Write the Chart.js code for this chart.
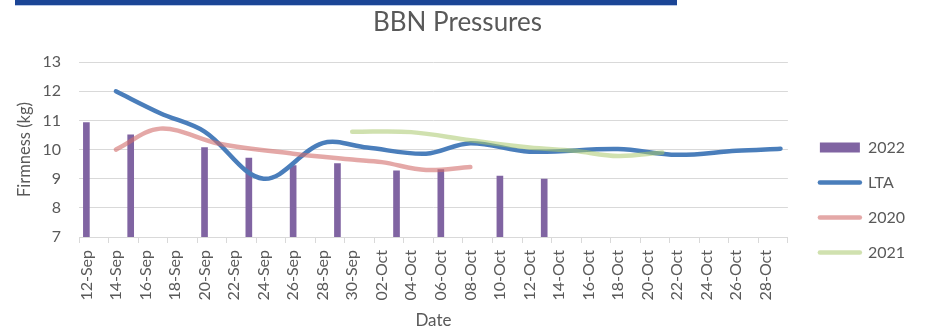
<!DOCTYPE html>
<html>
<head>
<meta charset="utf-8">
<script src="https://cdn.jsdelivr.net/npm/chart.js@4/dist/chart.umd.min.js"></script>
<style>
  html, body { margin: 0; padding: 0; background: #ffffff; }
  #wrap { position: relative; width: 937px; height: 327px; overflow: hidden; }
  #chart { position: absolute; left: 0; top: 0; }
  #topband { position: absolute; left: 15px; top: 0; width: 662px; height: 5px;
             background: #1B4596; border-bottom: 1px solid #B7C7E6; }
</style>
</head>
<body>
<div id="wrap">
  <canvas id="chart" width="937" height="327"></canvas>
  <div id="topband"></div>
</div>
<script>
// Daily date axis, 12 Sep – 29 Oct
const categories = [
  '12-Sep','13-Sep','14-Sep','15-Sep','16-Sep','17-Sep','18-Sep','19-Sep','20-Sep','21-Sep',
  '22-Sep','23-Sep','24-Sep','25-Sep','26-Sep','27-Sep','28-Sep','29-Sep','30-Sep',
  '01-Oct','02-Oct','03-Oct','04-Oct','05-Oct','06-Oct','07-Oct','08-Oct','09-Oct','10-Oct',
  '11-Oct','12-Oct','13-Oct','14-Oct','15-Oct','16-Oct','17-Oct','18-Oct','19-Oct','20-Oct',
  '21-Oct','22-Oct','23-Oct','24-Oct','25-Oct','26-Oct','27-Oct','28-Oct','29-Oct'
];

// 2022 firmness readings (bars)
const dates2022 = ['12-Sep','15-Sep','20-Sep','23-Sep','26-Sep','29-Sep','03-Oct','06-Oct','10-Oct','13-Oct'];
const values2022 = [10.93, 10.51, 10.07, 9.71, 9.45, 9.52, 9.27, 9.31, 9.09, 8.99];

// Long-term average
const datesLTA = ['14-Sep','17-Sep','20-Sep','24-Sep','28-Sep','01-Oct','05-Oct','08-Oct','12-Oct','18-Oct','22-Oct','26-Oct','29-Oct'];
const valuesLTA = [12.0, 11.25, 10.62, 9.0, 10.22, 10.07, 9.86, 10.22, 9.93, 10.02, 9.82, 9.96, 10.03];

// 2020 season
const dates2020 = ['14-Sep','17-Sep','21-Sep','26-Sep','30-Sep','02-Oct','05-Oct','08-Oct'];
const values2020 = [10.0, 10.72, 10.2, 9.86, 9.66, 9.57, 9.3, 9.4];

// 2021 season
const dates2021 = ['30-Sep','04-Oct','08-Oct','12-Oct','15-Oct','18-Oct','21-Oct'];
const values2021 = [10.61, 10.6, 10.32, 10.07, 9.96, 9.78, 9.9];

const yTicks = { min: 7, max: 13, step: 1 };

const FONT = 'Lato, "Open Sans", sans-serif';
const TEXT = '#595959';
const GRID = '#D9D9D9';

function series(dates, values) {
  return dates.map((d, i) => ({ x: d, y: values[i] }));
}

const lineStyle = {
  type: 'line',
  borderWidth: 4.5,
  borderCapStyle: 'round',
  borderJoinStyle: 'round',
  pointRadius: 0,
  pointHoverRadius: 0,
  tension: 0.35,
  fill: false
};

new Chart(document.getElementById('chart'), {
  data: {
    labels: categories,
    datasets: [
      { type: 'bar', label: '2022', data: series(dates2022, values2022),
        backgroundColor: '#8064A2', borderWidth: 0, barThickness: 6, order: 4 },
      Object.assign({ label: 'LTA', data: series(datesLTA, valuesLTA),
        borderColor: '#4A7EBB', backgroundColor: '#4A7EBB', order: 3 }, lineStyle),
      Object.assign({ label: '2020', data: series(dates2020, values2020),
        borderColor: 'rgba(210,110,108,0.6)', backgroundColor: 'rgba(210,110,108,0.6)', order: 2 }, lineStyle),
      Object.assign({ label: '2021', data: series(dates2021, values2021),
        borderColor: 'rgba(170,200,110,0.55)', backgroundColor: 'rgba(170,200,110,0.55)', order: 1 }, lineStyle)
    ]
  },
  options: {
    responsive: false,
    devicePixelRatio: 1,
    animation: false,
    layout: { padding: { left: 0, right: 22, top: 0, bottom: 0 } },
    plugins: {
      tooltip: { enabled: false },
      title: {
        display: true,
        text: 'BBN Pressures',
        color: TEXT,
        font: { family: FONT, size: 26, weight: 'normal', lineHeight: 1.2 },
        padding: { top: 7, bottom: 24 }
      },
      legend: {
        position: 'right',
        // empty heading used as a spacer to push the entries down
        title: { display: true, text: '', font: { size: 11, lineHeight: 1 }, padding: { top: 62, bottom: 0 } },
        labels: {
          usePointStyle: true,
          pointStyleWidth: 40,
          boxHeight: 10,
          padding: 19,
          color: TEXT,
          font: { family: FONT, size: 16 },
          sort: (a, b) => a.datasetIndex - b.datasetIndex,
          generateLabels(chart) {
            const items = Chart.defaults.plugins.legend.labels.generateLabels(chart);
            items.forEach(it => {
              const ds = chart.data.datasets[it.datasetIndex];
              if (ds.type === 'bar') {
                it.pointStyle = 'rect';
                it.lineWidth = 0;
              } else {
                it.pointStyle = 'line';
                it.strokeStyle = ds.borderColor;
                it.lineWidth = 4.5;
                it.lineCap = 'round';
              }
            });
            return items;
          }
        }
      }
    },
    scales: {
      x: {
        type: 'category',
        offset: true,
        afterFit(scale) { scale.height = 90; },
        grid: {
          offset: true,
          drawOnChartArea: false,
          drawTicks: true,
          tickLength: 6,
          color: ctx => (ctx.index === undefined || ctx.index % 2 === 0) ? GRID : 'rgba(0,0,0,0)'
        },
        border: { display: true, color: GRID, width: 1 },
        ticks: {
          autoSkip: false,
          minRotation: 90,
          maxRotation: 90,
          padding: 7,
          color: TEXT,
          font: { family: FONT, size: 16 },
          callback(value, index) { return index % 2 === 0 ? this.getLabelForValue(value) : ''; }
        },
        title: {
          display: true,
          text: 'Date',
          color: TEXT,
          font: { family: FONT, size: 17, lineHeight: 0.82 },
          padding: { top: 0, bottom: 0 }
        }
      },
      y: {
        type: 'linear',
        position: 'left',
        min: yTicks.min,
        max: yTicks.max,
        afterFit(scale) { scale.width = 79; },
        grid: { color: GRID, lineWidth: 1, drawTicks: false },
        border: { display: false },
        ticks: {
          stepSize: yTicks.step,
          padding: 18,
          color: TEXT,
          font: { family: FONT, size: 16 }
        },
        title: {
          display: true,
          text: 'Firmness (kg)',
          color: TEXT,
          font: { family: FONT, size: 16.5, lineHeight: 1.2 },
          padding: { top: 15, bottom: 0 }
        }
      },
      gap: {
        type: 'linear',
        position: 'right',
        display: true,
        afterFit(scale) { scale.width = 13; },
        grid: { display: false, drawTicks: false },
        border: { display: false },
        ticks: { display: false }
      }
    }
  }
});
</script>
</body>
</html>
